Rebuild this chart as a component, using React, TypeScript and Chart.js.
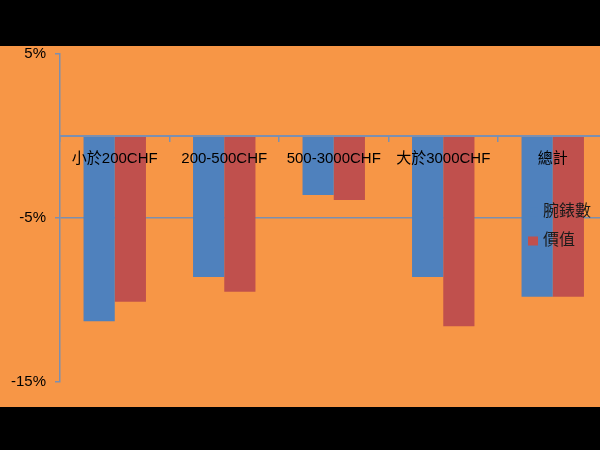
import React, { useEffect, useRef } from "react";
import { Chart, registerables } from "chart.js";

Chart.register(...registerables);

const categories = ["小於200CHF", "200-500CHF", "500-3000CHF", "大於3000CHF", "總計"];
const seriesNames = ["腕錶數", "價值"];
const watchCount = [-11.3, -8.6, -3.6, -8.6, -9.8];
const valueChange = [-10.1, -9.5, -3.9, -11.6, -9.8];
const yMin = -15;
const yMax = 5;
const yStep = 10;

const BLUE = "#4F81BD";
const RED = "#C0504D";
const ORANGE = "#F79646";
const AXIS = "#7B8FB0";
const FONT = "'Liberation Sans', 'Noto Sans CJK TC', sans-serif";

const legendPlugin = {
  id: "overlayLegend",
  afterDatasetsDraw(chart: any) {
    const ctx = chart.ctx;
    const area = chart.chartArea;
    ctx.save();
    ctx.font = "16px " + FONT;
    ctx.textBaseline = "middle";
    ctx.textAlign = "left";
    const x0 = area.left + 468;
    const ys = [area.top + 158, area.top + 187];
    chart.data.datasets.forEach((ds: any, i: number) => {
      const y = ys[i];
      ctx.fillStyle = ds.backgroundColor;
      ctx.fillRect(x0, y - 4.5, 10, 9);
      ctx.fillStyle = "#1a1a1a";
      ctx.fillText(ds.label, x0 + 15, y);
    });
    ctx.restore();
  },
};

export default function App() {
  const ref = useRef<HTMLCanvasElement>(null);
  useEffect(() => {
    if (!ref.current) return;
    const chart = new Chart(ref.current, {
      type: "bar",
      data: {
        labels: categories,
        datasets: [
          { label: seriesNames[0], data: watchCount, backgroundColor: BLUE, borderWidth: 0 },
          { label: seriesNames[1], data: valueChange, backgroundColor: RED, borderWidth: 0 },
        ],
      },
      options: {
        animation: false,
        responsive: false,
        maintainAspectRatio: false,
        layout: { padding: { left: 0, right: 12.5, top: 54, bottom: 68 } },
        datasets: { bar: { categoryPercentage: 0.57, barPercentage: 1 } },
        plugins: { legend: { display: false }, tooltip: { enabled: false } },
        scales: {
          x: {
            position: { y: 0 } as any,
            afterFit: (s: any) => { s.height = 0; },
            grid: { drawOnChartArea: false, drawTicks: true, tickLength: 5, tickColor: AXIS, offset: true, lineWidth: 1.5, z: 1 },
            border: { display: true, color: AXIS, width: 2, z: 1 },
            ticks: {
              z: 2,
              autoSkip: false,
              maxRotation: 0,
              minRotation: 0,
              padding: 9,
              color: "#000",
              font: { family: FONT, size: 15 },
            },
          },
          y: {
            min: yMin,
            max: yMax,
            afterFit: (s: any) => { s.width = 60; },
            grid: {
              color: (c: any) => (c.tick && c.tick.value === -5 ? AXIS : "rgba(0,0,0,0)"),
              lineWidth: 1.5,
              drawTicks: true,
              tickLength: 5,
              tickColor: AXIS,
            },
            border: { display: true, color: AXIS, width: 1.5 },
            ticks: {
              stepSize: yStep,
              padding: 9,
              color: "#000",
              font: { family: FONT, size: 15 },
              callback: (v: any) => v + "%",
            },
          },
        },
      },
      plugins: [legendPlugin],
    });
    return () => chart.destroy();
  }, []);

  return (
    <div style={{ position: "fixed", left: 0, top: 0, width: 600, height: 450, background: "#000", overflow: "hidden" }}>
      <div style={{ position: "absolute", left: 0, top: 46, width: 600, height: 361, background: ORANGE }} />
      <canvas ref={ref} width={620} height={450} style={{ position: "absolute", left: 0, top: 0, width: 620, height: 450 }} />
    </div>
  );
}
